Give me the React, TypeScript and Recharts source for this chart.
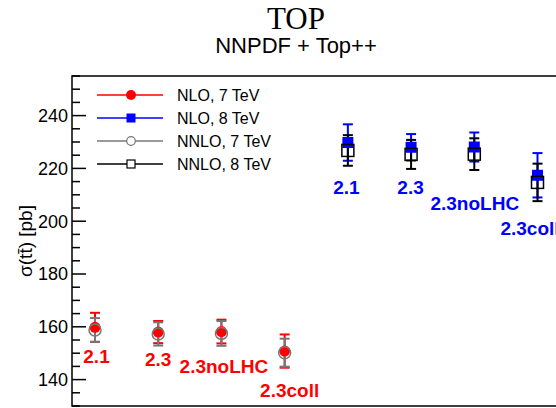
import { ScatterChart, Scatter, XAxis, YAxis, ErrorBar, ReferenceArea } from 'recharts';

// PDF sets, one group per beam energy
const CATEGORIES = ['2.1', '2.3', '2.3noLHC', '2.3coll'];

// cross sections in pb, with symmetric uncertainties
const NLO_7 = [159.8, 158.0, 158.2, 150.8];
const NLO_7_ERR = [5.5, 4.2, 4.5, 6.3];
const NNLO_7 = [158.8, 157.3, 157.5, 150.2];
const NNLO_7_ERR = [4.5, 4.4, 4.7, 5.3];
const NLO_8 = [229.8, 228.0, 228.1, 217.4];
const NLO_8_ERR = [6.9, 5.0, 5.5, 8.4];
const NNLO_8 = [226.8, 225.3, 225.4, 214.7];
const NNLO_8_ERR = [5.8, 5.5, 6.0, 7.1];

const Y_DOMAIN: [number, number] = [130, 255];
const Y_LABELED = [140, 160, 180, 200, 220, 240];
const X_DOMAIN: [number, number] = [-0.364, 7.34];

const SANS = '"Liberation Sans", Arial, sans-serif';

// every 5 pb gets a tick, labelled ones are long
const yTicks: number[] = [];
for (let v = Y_DOMAIN[0]; v <= Y_DOMAIN[1]; v += 5) yTicks.push(v);

const toPoints = (vals: number[], errs: number[], shift: number) =>
  vals.map((y, i) => ({ x: i + shift, y, err: errs[i], idx: i, name: CATEGORIES[i] }));

const nlo7 = toPoints(NLO_7, NLO_7_ERR, 0);
const nnlo7 = toPoints(NNLO_7, NNLO_7_ERR, 0);
const nlo8 = toPoints(NLO_8, NLO_8_ERR, 4);
const nnlo8 = toPoints(NNLO_8, NNLO_8_ERR, 4);

// set-name label offsets below each NLO marker (px)
const RED_LABEL_OFF = [[1.5, 36], [0, 34], [2.5, 41], [5, 46]];
const BLUE_LABEL_OFF = [[-1.5, 51], [-0.5, 47], [0.5, 63], [-7.5, 60]];

const setLabel = (p: any, off: number[][], color: string) => {
  const [dx, dy] = off[p.payload.idx];
  return (
    <text x={p.cx + dx} y={p.cy + dy} textAnchor="middle" fill={color}
      style={{ fontFamily: SANS, fontWeight: 700, fontSize: 19 }}>
      {p.payload.name}
    </text>
  );
};

const RedDot = (p: any) => (
  <g>
    <circle cx={p.cx} cy={p.cy} r={5.5} fill="#ff0000" />
    {setLabel(p, RED_LABEL_OFF, '#ff0000')}
  </g>
);
const BlueSquare = (p: any) => (
  <g>
    <rect x={p.cx - 5.5} y={p.cy - 5.5} width={11} height={11} fill="#0000ff" />
    {setLabel(p, BLUE_LABEL_OFF, '#0000ff')}
  </g>
);
const OpenCircle = (p: any) => (
  <circle cx={p.cx} cy={p.cy} r={6} fill="none" stroke="#777" strokeWidth={1.5} />
);
const OpenSquare = (p: any) => (
  <rect x={p.cx - 6} y={p.cy - 6} width={12} height={12} fill="none" stroke="#000" strokeWidth={1.5} />
);

const LeftTick = ({ x, y, payload }: any) => {
  const v = payload.value;
  const major = v % 20 === 0;
  return (
    <g>
      <line x1={x} x2={x + (major ? 14 : 8)} y1={y} y2={y} stroke="#000" strokeWidth={1.5} />
      {Y_LABELED.includes(v) && (
        <text x={x - 4} y={y} dy="0.36em" textAnchor="end" fill="#000"
          style={{ fontFamily: SANS, fontSize: 18 }}>
          {v}
        </text>
      )}
    </g>
  );
};

const RightTick = ({ x, y, payload }: any) => {
  const major = payload.value % 20 === 0;
  return <line x1={x - (major ? 14 : 8)} x2={x} y1={y} y2={y} stroke="#000" strokeWidth={1.5} />;
};

const LEGEND = [
  { name: 'NLO, 7 TeV', color: '#ff0000', marker: 'dot' },
  { name: 'NLO, 8 TeV', color: '#0000ff', marker: 'square' },
  { name: 'NNLO, 7 TeV', color: '#777', marker: 'circle' },
  { name: 'NNLO, 8 TeV', color: '#000', marker: 'box' },
];

const LegendMarker = ({ kind, color, cx, cy }: any) => {
  if (kind === 'dot') return <circle cx={cx} cy={cy} r={5} fill={color} />;
  if (kind === 'square') return <rect x={cx - 4.5} y={cy - 4.5} width={9} height={9} fill={color} />;
  if (kind === 'circle') return <circle cx={cx} cy={cy} r={4.3} fill="#fff" stroke={color} strokeWidth={1.2} />;
  return <rect x={cx - 4} y={cy - 4} width={8} height={8} fill="#fff" stroke={color} strokeWidth={1.2} />;
};

export default function App() {
  return (
    <div style={{ position: 'absolute', left: 0, top: 0, width: 556, height: 408, overflow: 'hidden', background: '#fff' }}>
      <ScatterChart width={560} height={408} margin={{ top: 76, right: 0, bottom: 2, left: 0 }}>
        <XAxis type="number" dataKey="x" domain={X_DOMAIN} allowDataOverflow hide />
        <YAxis type="number" dataKey="y" domain={Y_DOMAIN} ticks={yTicks} interval={0} width={72}
          axisLine={false} tickLine={false} tickSize={0} tickMargin={0} tick={<LeftTick />} allowDataOverflow />
        <YAxis yAxisId="right" orientation="right" type="number" domain={Y_DOMAIN} ticks={yTicks} interval={0}
          width={1} axisLine={false} tickLine={false} tickSize={0} tickMargin={0} tick={<RightTick />} />
        <ReferenceArea x1={X_DOMAIN[0]} x2={X_DOMAIN[1]} y1={Y_DOMAIN[0]} y2={Y_DOMAIN[1]}
          fill="none" fillOpacity={0} stroke="#000" strokeWidth={1.5} ifOverflow="visible" />
        <Scatter data={nlo7} dataKey="y" shape={RedDot} isAnimationActive={false}>
          <ErrorBar dataKey="err" direction="y" width={5} stroke="#ff0000" strokeWidth={2} isAnimationActive={false} />
        </Scatter>
        <Scatter data={nlo8} dataKey="y" shape={BlueSquare} isAnimationActive={false}>
          <ErrorBar dataKey="err" direction="y" width={5} stroke="#0000ff" strokeWidth={2} isAnimationActive={false} />
        </Scatter>
        <Scatter data={nnlo7} dataKey="y" shape={OpenCircle} isAnimationActive={false}>
          <ErrorBar dataKey="err" direction="y" width={5} stroke="#777" strokeWidth={2} isAnimationActive={false} />
        </Scatter>
        <Scatter data={nnlo8} dataKey="y" shape={OpenSquare} isAnimationActive={false}>
          <ErrorBar dataKey="err" direction="y" width={5} stroke="#000" strokeWidth={2} isAnimationActive={false} />
        </Scatter>
      </ScatterChart>
      <svg width={556} height={408} style={{ position: 'absolute', left: 0, top: 0, pointerEvents: 'none' }}>
        <text x={296} y={29} textAnchor="middle" fill="#000"
          style={{ fontFamily: '"Liberation Serif", "Times New Roman", serif', fontSize: 31 }}>TOP</text>
        <text x={296} y={53} textAnchor="middle" fill="#000"
          style={{ fontFamily: SANS, fontSize: 22 }}>NNPDF + Top++</text>
        <text transform="translate(32 241) rotate(-90)" textAnchor="middle" fill="#000"
          style={{ fontFamily: SANS, fontSize: 19 }}>σ(tt̄) [pb]</text>
        {LEGEND.map((item, i) => {
          const cy = 95 + i * 23;
          return (
            <g key={item.name}>
              <line x1={97} x2={163} y1={cy} y2={cy} stroke={item.color} strokeWidth={1.6} />
              <LegendMarker kind={item.marker} color={item.color} cx={131} cy={cy} />
              <text x={177} y={cy + 5.5} fill="#000" style={{ fontFamily: SANS, fontSize: 16 }}>{item.name}</text>
            </g>
          );
        })}
      </svg>
    </div>
  );
}
